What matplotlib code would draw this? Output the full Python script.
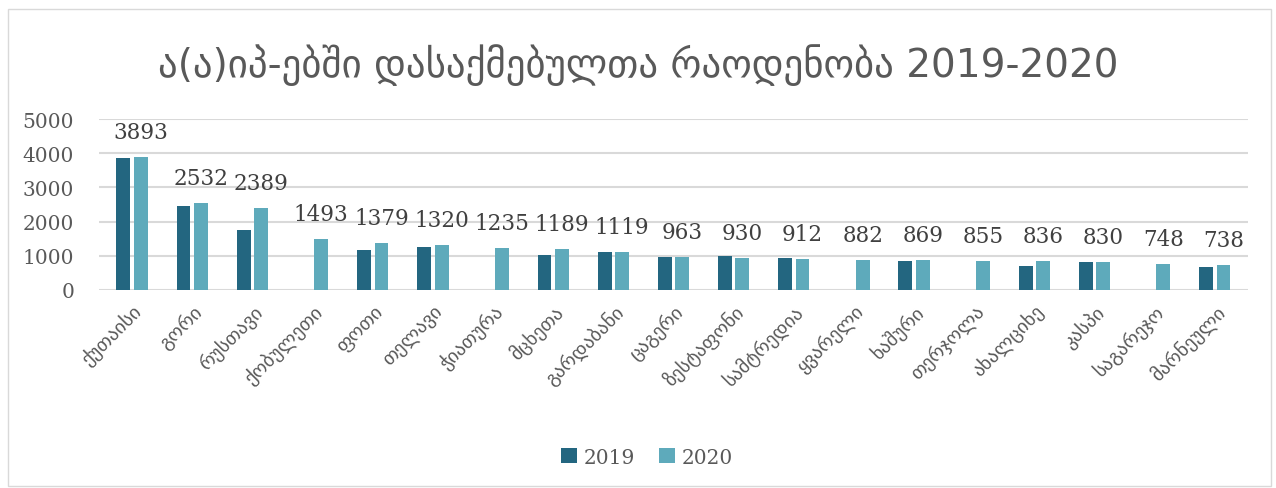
import matplotlib.pyplot as plt
import numpy as np
from matplotlib.patches import Rectangle

plt.rcParams['font.family'] = ['DejaVu Serif', 'DejaVu Sans']

cities = ['ქუთაისი', 'გორი', 'რუსთავი', 'ქობულეთი', 'ფოთი', 'თელავი', 'ჭიათურა',
          'მცხეთა', 'გარდაბანი', 'ცაგერი', 'ზესტაფონი', 'სამტრედია', 'ყვარელი',
          'ხაშური', 'თერჯოლა', 'ახალციხე', 'კასპი', 'საგარეჯო', 'მარნეული']
v2019 = [3860, 2456, 1754, 0, 1170, 1267, 0, 1023, 1111, 965, 984, 936, 0,
         858, 0, 692, 809, 0, 673]
v2020 = [3893, 2532, 2389, 1493, 1379, 1320, 1235, 1189, 1119, 963, 930, 912, 882,
         869, 855, 836, 830, 748, 738]

c19 = '#236680'
c20 = '#5eaabb'

fig = plt.figure(figsize=(12.76, 4.89), dpi=100)
fig.patches.append(Rectangle((0.006, 0.005), 0.99, 0.975, transform=fig.transFigure,
                             fill=False, edgecolor='#d9d9d9', linewidth=1))
ax = fig.add_axes([0.0776, 0.405, 0.9004, 0.3496])

x = np.arange(len(cities))
w = 0.23
ax.bar(x - 0.145, v2019, w, color=c19, label='2019', zorder=3)
ax.bar(x + 0.145, v2020, w, color=c20, label='2020', zorder=3)

for xi, v in zip(x, v2020):
    ax.annotate(str(v), (xi + 0.145, v), xytext=(0, 10), textcoords='offset points',
                ha='center', va='bottom', fontsize=15.5, color='#404040')

ax.set_xlim(-0.55, len(cities) - 0.45)
ax.set_ylim(0, 5000)
ax.set_yticks(range(0, 5001, 1000))
ax.yaxis.grid(True, color='#d9d9d9', linewidth=1.5, zorder=0)
ax.set_axisbelow(True)
for s in ax.spines.values():
    s.set_visible(False)
ax.tick_params(axis='both', length=0, labelcolor='#595959')
ax.tick_params(axis='y', labelsize=14.5, pad=18)
ax.tick_params(axis='x', pad=8)
ax.set_xticks(x)
ax.set_xticklabels(cities, rotation=45, ha='right', va='top', rotation_mode='anchor',
                   fontsize=14, family=['DejaVu Sans'])

fig.text(0.5, 0.867, 'ა(ა)იპ-ებში დასაქმებულთა რაოდენობა 2019-2020', ha='center',
         va='center', fontsize=28, color='#595959', family=['DejaVu Sans'])

fig.legend(loc='center', bbox_to_anchor=(0.507, 0.063), ncol=2, frameon=False,
           fontsize=14.5, handlelength=0.8, handleheight=0.8, handletextpad=0.3,
           columnspacing=1.2, labelcolor='#595959')

plt.savefig('out.png', dpi=100)
